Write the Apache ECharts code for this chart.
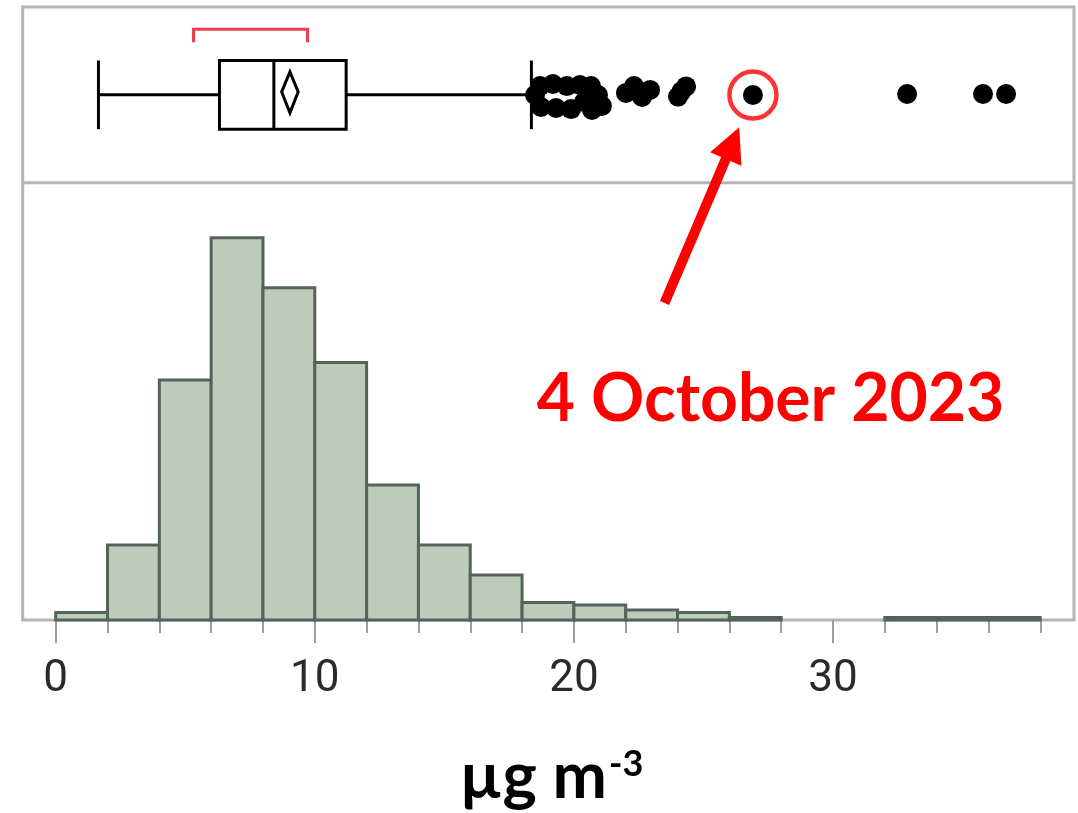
<!DOCTYPE html>
<html>
<head>
<meta charset="utf-8">
<script src="https://cdn.jsdelivr.net/npm/echarts/dist/echarts.min.js"></script>
<style>
html,body{margin:0;padding:0;background:#ffffff;overflow:hidden;width:1078px;height:813px;}
#chart{width:1096px;height:813px;}
</style>
</head>
<body>
<div id="chart"></div>
<script>
// ---------------- data ----------------
const binEdges = [0,2,4,6,8,10,12,14,16,18,20,22,24,26,28,30,32,34,36,38];
const binCounts = [3,30,96,153,133,103,54,30,18,7,6,4,3,1,0,0,1,1,1];

// whisker low, Q1, median, Q3, whisker high
const boxFive = [1.65, 6.32, 8.42, 11.21, 18.36];
// 95% CI low, mean, CI high
const meanCI = [8.72, 9.04, 9.36];
// shortest half bracket
const shortestHalf = [5.32, 9.72];

// outliers (value) and vertical jitter (0..1 within the box panel)
const outlierX = [18.50,18.69,18.73,19.19,19.31,19.73,19.89,20.23,20.39,20.66,20.70,21.08,20.93,
                  22.01,22.32,22.63,22.94,24.02,24.15,24.33,26.91,32.86,35.79,36.68];
const outlierJitter = [0.499,0.550,0.431,0.562,0.425,0.550,0.419,0.556,0.459,0.550,0.414,0.437,0.499,
                       0.511,0.550,0.488,0.528,0.490,0.520,0.548,0.499,0.505,0.505,0.505];
const highlightIndex = 20; // 4 October 2023
const highlightLabel = '4 October 2023';
const xTickLabels = [0,10,20,30];
const axisTitle = 'µg m';
const axisTitleSup = '-3';

// ---------------- chart ----------------
const chart = echarts.init(document.getElementById('chart'), null, {renderer:'canvas'});

const histData = binCounts.map((c,i)=>[binEdges[i], binEdges[i+1], c]);
const boxData = [boxFive.concat(meanCI, shortestHalf)];
const outlierData = outlierX.map((x,i)=>[x, outlierJitter[i]]);

const GRID_LEFT = 55.7, GRID_WIDTH = 1036.4;
const FRAME = {x:22.7, y:7, x2:1074, y2:620, mid:182.7};

function renderBox(params, api){
  const v = i => api.value(i);
  const c = api.coord([v(0), 0.5])[1];
  const X = val => api.coord([val, 0.5])[0];
  const h = 34.3;
  const ls = {stroke:'#000', lineWidth:3, fill:null};
  const line = (x1,y1,x2,y2,st)=>({type:'line', shape:{x1,y1,x2,y2}, style:st||ls});
  const children = [
    line(X(v(0)), c-h, X(v(0)), c+h),
    line(X(v(0)), c, X(v(1)), c),
    {type:'rect', shape:{x:X(v(1)), y:c-h, width:X(v(3))-X(v(1)), height:2*h}, style:{stroke:'#000', lineWidth:3, fill:'#fff'}},
    line(X(v(2)), c-h, X(v(2)), c+h),
    line(X(v(3)), c, X(v(4)), c),
    line(X(v(4)), c-h, X(v(4)), c+h),
    {type:'polygon', shape:{points:[[X(v(5)), c-3],[X(v(6)), c-23],[X(v(7)), c-3],[X(v(6)), c+18]]},
      style:{stroke:'#000', lineWidth:3, fill:'#fff'}},
    {type:'polyline', shape:{points:[[X(v(8)), c-52.7],[X(v(8)), c-65.7],[X(v(9)), c-65.7],[X(v(9)), c-52.7]]},
      style:{stroke:'#ee3b4e', lineWidth:3, fill:null}}
  ];
  return {type:'group', children};
}

function renderHist(params, api){
  const c = api.value(2);
  if (!c) return null;
  const p0 = api.coord([api.value(0), c]);
  const p1 = api.coord([api.value(1), 0]);
  return {type:'rect', shape:{x:p0[0], y:p0[1], width:p1[0]-p0[0], height:p1[1]-p0[1]},
    style:{fill:'#bccbbb', stroke:'#55645a', lineWidth:3}};
}

const option = {
  backgroundColor:'#ffffff',
  animation:false,
  grid:[
    {left:GRID_LEFT, width:GRID_WIDTH, top:FRAME.y, height:FRAME.mid-FRAME.y, containLabel:false},
    {left:GRID_LEFT, width:GRID_WIDTH, top:FRAME.mid, height:FRAME.y2-FRAME.mid, containLabel:false}
  ],
  xAxis:[
    {type:'value', gridIndex:0, min:0, max:40, show:false},
    {type:'value', gridIndex:1, min:0, max:40, interval:10,
      axisLine:{show:false},
      axisTick:{show:true, length:23, lineStyle:{color:'#9c9c9c', width:2}},
      minorTick:{show:true, splitNumber:5, length:13, lineStyle:{color:'#9c9c9c', width:2}},
      splitLine:{show:false}, minorSplitLine:{show:false},
      axisLabel:{show:true, margin:38, fontSize:44, lineHeight:44, color:'#2a2a2a', fontFamily:'Roboto',
        formatter:(val)=> xTickLabels.indexOf(val)>=0 ? String(val) : ''}
    }
  ],
  yAxis:[
    {type:'value', gridIndex:0, min:0, max:1, show:false},
    {type:'value', gridIndex:1, min:0, max:175, show:false}
  ],
  series:[
    {type:'custom', xAxisIndex:1, yAxisIndex:1, renderItem:renderHist, data:histData,
      encode:{x:[0,1], y:2}, z:3, clip:false},
    {type:'custom', xAxisIndex:0, yAxisIndex:0, renderItem:renderBox, data:boxData,
      encode:{x:[0,1,2,3,4], y:-1}, z:3, clip:false},
    {type:'scatter', xAxisIndex:0, yAxisIndex:0, data:outlierData, symbolSize:20,
      itemStyle:{color:'#000', opacity:1}, z:4},
    {type:'scatter', xAxisIndex:0, yAxisIndex:0, data:[outlierData[highlightIndex]], symbol:'circle', symbolSize:47,
      itemStyle:{color:'rgba(0,0,0,0)', borderColor:'#ff0000', borderWidth:4.5}, z:5, silent:true}
  ],
  graphic:[
    {type:'rect', z:0, shape:{x:FRAME.x, y:FRAME.y, width:FRAME.x2-FRAME.x, height:FRAME.y2-FRAME.y},
      style:{fill:'#fff', stroke:'#b4b4b4', lineWidth:3}},
    {type:'line', z:1, shape:{x1:FRAME.x, y1:FRAME.mid, x2:FRAME.x2, y2:FRAME.mid},
      style:{stroke:'#b4b4b4', lineWidth:3}},
    {type:'text', z:100, x:770.5, y:400, style:{text:highlightLabel, fill:'#ff0000',
      font:'bold 66px Lato', textAlign:'center', textVerticalAlign:'middle'}},
    {type:'text', z:100, x:607, y:777, style:{text:axisTitle, fill:'#000',
      font:'bold 65px Lato', textAlign:'right', textVerticalAlign:'middle'}},
    {type:'text', z:100, x:609, y:764, style:{text:axisTitleSup, fill:'#000',
      font:'bold 36px Lato', textAlign:'left', textVerticalAlign:'middle'}}
  ]
};
chart.setOption(option);

// arrow pointing at the highlighted point (computed from its data position)
const hp = chart.convertToPixel({xAxisIndex:0, yAxisIndex:0}, outlierData[highlightIndex]);
const tip = [hp[0]-13.7, hp[1]+32.3];
const tail = [hp[0]-88.4, hp[1]+208];
const dx = tip[0]-tail[0], dy = tip[1]-tail[1];
const L = Math.sqrt(dx*dx+dy*dy);
const ux = dx/L, uy = dy/L, px = -uy, py = ux;
const headLen = 34.4, headHalf = 17, shaftHalf = 5;
const bx = tip[0]-ux*headLen, by = tip[1]-uy*headLen;
const arrowPts = [
  [tail[0]+px*shaftHalf, tail[1]+py*shaftHalf],
  [bx+px*shaftHalf, by+py*shaftHalf],
  [bx+px*headHalf, by+py*headHalf],
  tip,
  [bx-px*headHalf, by-py*headHalf],
  [bx-px*shaftHalf, by-py*shaftHalf],
  [tail[0]-px*shaftHalf, tail[1]-py*shaftHalf]
];
option.graphic.push({type:'polygon', z:100, shape:{points:arrowPts}, style:{fill:'#ff0000'}});
chart.setOption({graphic:option.graphic});
</script>
</body>
</html>
